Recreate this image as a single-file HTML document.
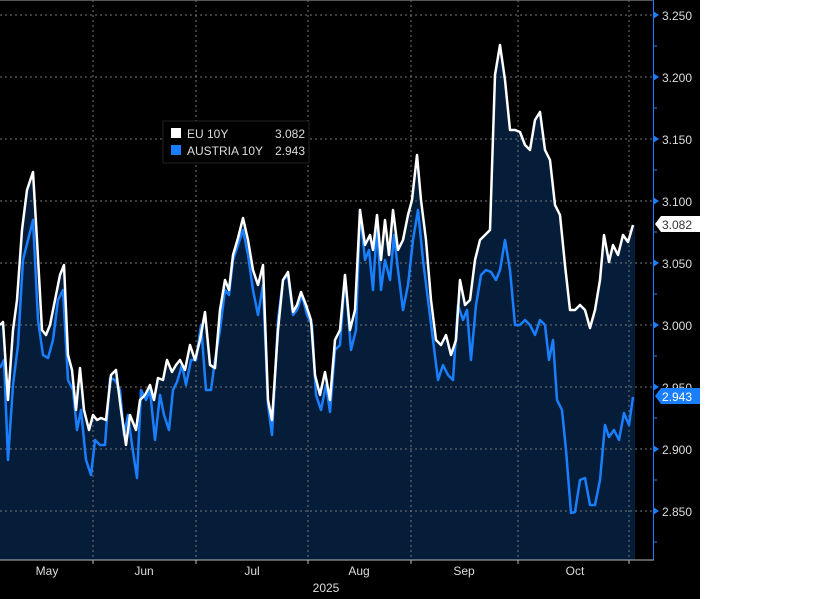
<!DOCTYPE html><html><head><style>body{margin:0;background:#fff}svg{display:block}text{font-family:"Liberation Sans",sans-serif}</style></head><body>
<svg width="830" height="599" viewBox="0 0 830 599">
<rect x="0" y="0" width="700" height="599" fill="#000"/>
<line x1="0" y1="0.5" x2="653" y2="0.5" stroke="#555"/>
<path id="f" d="M0,325 3,322 8,400 13,330 17,300 22,230 27,190 33,172 37,240 42,330 46,335 50,325 55,300 60,275 64,265 68,355 72,370 76,410 80,368 84,410 89,430 93,415 97,420 101,418 106,420 111,375 116,370 121,410 126,445 130,415 136,430 140,400 145,395 150,385 154,400 158,378 163,380 167,360 172,372 176,365 180,360 185,370 190,345 195,360 200,340 205,312 210,365 215,368 220,310 225,280 229,290 233,255 238,238 243,218 248,240 253,270 258,285 263,265 268,400 272,420 278,330 283,280 288,272 293,312 297,305 301,292 306,305 311,320 315,375 320,395 325,372 330,400 335,340 340,330 345,275 350,330 355,310 360,210 365,245 370,235 373,250 377,215 381,260 385,220 389,255 393,210 398,250 403,240 408,215 412,200 417,155 421,200 426,240 431,300 436,340 441,345 446,335 451,355 456,340 460,280 465,305 470,300 475,260 480,240 485,235 490,230 495,75 500,45 505,80 510,130 515,130 520,132 525,145 530,150 535,120 540,112 545,150 550,160 555,205 560,215 565,265 570,310 575,310 580,305 585,310 590,328 595,310 600,280 604,235 609,262 613,245 618,255 623,235 628,242 633,225 L635,225 635,560 0,560Z" fill="#051d38"/>
<g stroke="#777" stroke-dasharray="2,3" stroke-width="1">
<line x1="0" y1="15" x2="653" y2="15"/><line x1="0" y1="77" x2="653" y2="77"/><line x1="0" y1="139" x2="653" y2="139"/><line x1="0" y1="201" x2="653" y2="201"/><line x1="0" y1="263" x2="653" y2="263"/><line x1="0" y1="325" x2="653" y2="325"/><line x1="0" y1="387" x2="653" y2="387"/><line x1="0" y1="449" x2="653" y2="449"/><line x1="0" y1="511" x2="653" y2="511"/>
<line x1="93" y1="0" x2="93" y2="560"/><line x1="196" y1="0" x2="196" y2="560"/><line x1="308" y1="0" x2="308" y2="560"/><line x1="411" y1="0" x2="411" y2="560"/><line x1="518" y1="0" x2="518" y2="560"/><line x1="629" y1="0" x2="629" y2="560"/>
</g>
<polyline fill="none" stroke="#1a7fff" stroke-width="2.5" stroke-linejoin="round" points="0,368 4,360 8,460 13,385 18,345 23,260 28,240 33,220 38,320 43,355 48,358 53,340 58,300 63,290 68,380 73,390 77,430 81,410 86,460 91,475 95,440 100,445 105,445 110,378 115,380 120,390 124,435 128,415 132,445 137,478 141,390 146,400 150,390 155,440 160,395 164,415 169,430 173,390 177,382 182,365 186,385 191,360 196,360 201,325 206,390 211,390 215,360 220,330 225,290 229,295 233,260 238,245 243,230 248,255 253,290 258,315 263,285 268,405 272,435 278,320 283,280 288,275 293,315 297,310 302,295 307,315 312,325 316,395 321,410 326,385 330,412 335,350 340,345 345,275 351,350 356,330 360,210 365,260 369,250 373,290 377,225 381,290 385,260 390,280 394,235 398,270 403,310 408,285 413,240 418,210 423,260 428,300 433,340 438,380 443,365 448,375 453,380 458,305 463,320 467,310 471,360 476,305 481,275 486,270 491,272 496,280 500,270 505,240 510,270 515,325 520,325 525,320 530,325 535,335 540,320 545,325 549,360 553,340 557,400 562,410 566,450 571,513 575,512 580,480 585,478 590,505 595,505 600,480 605,425 609,437 614,430 619,440 624,413 629,425 633,397"/>
<polyline fill="none" stroke="#fff" stroke-width="2.5" stroke-linejoin="round" points="0,325 3,322 8,400 13,330 17,300 22,230 27,190 33,172 37,240 42,330 46,335 50,325 55,300 60,275 64,265 68,355 72,370 76,410 80,368 84,410 89,430 93,415 97,420 101,418 106,420 111,375 116,370 121,410 126,445 130,415 136,430 140,400 145,395 150,385 154,400 158,378 163,380 167,360 172,372 176,365 180,360 185,370 190,345 195,360 200,340 205,312 210,365 215,368 220,310 225,280 229,290 233,255 238,238 243,218 248,240 253,270 258,285 263,265 268,400 272,420 278,330 283,280 288,272 293,312 297,305 301,292 306,305 311,320 315,375 320,395 325,372 330,400 335,340 340,330 345,275 350,330 355,310 360,210 365,245 370,235 373,250 377,215 381,260 385,220 389,255 393,210 398,250 403,240 408,215 412,200 417,155 421,200 426,240 431,300 436,340 441,345 446,335 451,355 456,340 460,280 465,305 470,300 475,260 480,240 485,235 490,230 495,75 500,45 505,80 510,130 515,130 520,132 525,145 530,150 535,120 540,112 545,150 550,160 555,205 560,215 565,265 570,310 575,310 580,305 585,310 590,328 595,310 600,280 604,235 609,262 613,245 618,255 623,235 628,242 633,225"/>
<line x1="653.5" y1="0" x2="653.5" y2="560" stroke="#1a7fff"/>
<line x1="0" y1="560" x2="654" y2="560" stroke="#bbb"/>
<g stroke="#bbb"><line x1="93" y1="560" x2="93" y2="564"/><line x1="196" y1="560" x2="196" y2="564"/><line x1="308" y1="560" x2="308" y2="564"/><line x1="411" y1="560" x2="411" y2="564"/><line x1="518" y1="560" x2="518" y2="564"/><line x1="629" y1="560" x2="629" y2="564"/></g>
<g fill="#1a7fff"><path d="M653,11 659,15 653,19Z"/><path d="M653,73 659,77 653,81Z"/><path d="M653,135 659,139 653,143Z"/><path d="M653,197 659,201 653,205Z"/><path d="M653,259 659,263 653,267Z"/><path d="M653,321 659,325 653,329Z"/><path d="M653,383 659,387 653,391Z"/><path d="M653,445 659,449 653,453Z"/><path d="M653,507 659,511 653,515Z"/></g>
<g stroke="#1a7fff"><line x1="653" y1="46" x2="657" y2="46"/><line x1="653" y1="108" x2="657" y2="108"/><line x1="653" y1="170" x2="657" y2="170"/><line x1="653" y1="232" x2="657" y2="232"/><line x1="653" y1="294" x2="657" y2="294"/><line x1="653" y1="356" x2="657" y2="356"/><line x1="653" y1="418" x2="657" y2="418"/><line x1="653" y1="480" x2="657" y2="480"/><line x1="653" y1="542" x2="657" y2="542"/></g>
<g fill="#ddd" font-size="12">
<text x="662" y="20">3.250</text><text x="662" y="82">3.200</text><text x="662" y="144">3.150</text><text x="662" y="206">3.100</text><text x="662" y="268">3.050</text><text x="662" y="330">3.000</text><text x="662" y="392">2.950</text><text x="662" y="454">2.900</text><text x="662" y="516">2.850</text>
<text x="47" y="575" text-anchor="middle">May</text><text x="144" y="575" text-anchor="middle">Jun</text><text x="252" y="575" text-anchor="middle">Jul</text><text x="359" y="575" text-anchor="middle">Aug</text><text x="464" y="575" text-anchor="middle">Sep</text><text x="575" y="575" text-anchor="middle">Oct</text><text x="326" y="592" text-anchor="middle">2025</text>
</g>
<path d="M655,224 661,216 700,216 700,232 661,232Z" fill="#fff"/><text x="662" y="229" font-size="12" fill="#333">3.082</text>
<path d="M655,396 661,388 700,388 700,404 661,404Z" fill="#1a7fff"/><text x="662" y="401" font-size="12" fill="#fff">2.943</text>
<rect x="163" y="121" width="146" height="42" fill="#000" stroke="#222"/>
<rect x="171" y="128" width="10" height="10" fill="#fff"/><rect x="171" y="145" width="10" height="10" fill="#1a7fff"/>
<g fill="#ddd" font-size="12"><text x="187" y="138">EU 10Y</text><text x="305" y="138" text-anchor="end">3.082</text><text x="187" y="155">AUSTRIA 10Y</text><text x="305" y="155" text-anchor="end">2.943</text></g>
</svg></body></html>
